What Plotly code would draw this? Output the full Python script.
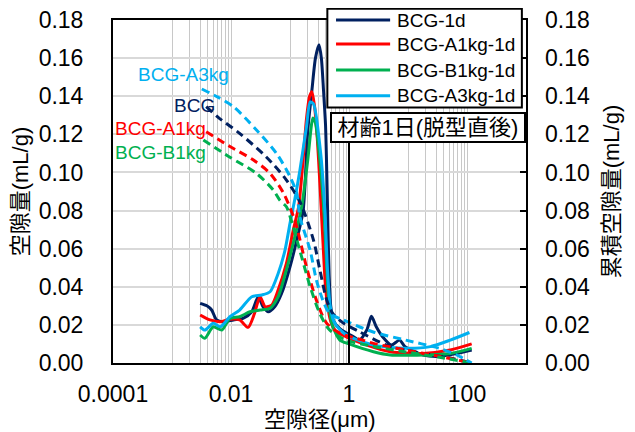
import plotly.graph_objects as go

# ---------------- data (pore diameter in µm) ----------------
series_names = ["BCG-1d", "BCG-A1kg-1d", "BCG-B1kg-1d", "BCG-A3kg-1d"]
cum_names = ["BCG", "BCG-A1kg", "BCG-B1kg", "BCG-A3kg"]
colors = ["#002060", "#FF0000", "#00B050", "#00B0F0"]

# pore volume distribution (left axis)
bcg_x = [0.0030, 0.0039, 0.0047, 0.0057, 0.0074, 0.011, 0.016, 0.0225, 0.029, 0.035, 0.043,
         0.055, 0.072, 0.10, 0.13, 0.167, 0.20, 0.235, 0.27, 0.31, 0.34, 0.37, 0.40, 0.42,
         0.44, 0.46, 0.49, 0.55, 0.70, 1.0, 1.2, 1.5, 2.0, 2.4, 2.9, 3.7, 5.2, 7.2, 8.9,
         18, 34, 67, 120]
bcg_y = [0.0313, 0.0300, 0.0278, 0.0226, 0.0217, 0.0226, 0.0234, 0.0269, 0.0348, 0.0295, 0.0269,
         0.0295, 0.0365, 0.0505, 0.0645, 0.0800, 0.1220, 0.1430, 0.1600, 0.1670, 0.1600, 0.1430, 0.1250, 0.1000,
         0.0700, 0.0470, 0.0300, 0.0220, 0.0180, 0.0150, 0.0138, 0.0120, 0.0173, 0.0245, 0.0190, 0.0138, 0.0094, 0.0120, 0.0086,
         0.0042, 0.0035, 0.0050, 0.0068]

a1_x = [0.0030, 0.0044, 0.0066, 0.0096, 0.014, 0.0195, 0.025, 0.031, 0.038, 0.049, 0.063, 0.087,
        0.114, 0.14, 0.165, 0.19, 0.215, 0.235, 0.26, 0.29, 0.32, 0.36, 0.40, 0.45, 0.50, 0.60,
        0.80, 1.0, 2.0, 5.0, 18, 52, 120]
a1_y = [0.0252, 0.0226, 0.0217, 0.0230, 0.0226, 0.0187, 0.0260, 0.0348, 0.0295, 0.0304, 0.0383, 0.0523,
        0.0700, 0.0820, 0.1050, 0.1280, 0.1400, 0.1424, 0.1350, 0.1180, 0.0950, 0.0650, 0.0400, 0.0270, 0.0210, 0.0165,
        0.0145, 0.0130, 0.0094, 0.0059, 0.0050, 0.0068, 0.0100]

b1_x = [0.0030, 0.0036, 0.0050, 0.0070, 0.0096, 0.014, 0.021, 0.031, 0.046, 0.063, 0.087, 0.12,
        0.158, 0.20, 0.245, 0.27, 0.30, 0.34, 0.38, 0.42, 0.46, 0.52, 0.70, 1.0, 2.6, 5.0,
        18, 52, 120]
b1_y = [0.0147, 0.0130, 0.0190, 0.0173, 0.0234, 0.0243, 0.0269, 0.0278, 0.0287, 0.0348, 0.0490, 0.0660,
        0.0820, 0.1065, 0.1286, 0.1260, 0.1150, 0.0980, 0.0770, 0.0500, 0.0300, 0.0200, 0.0120, 0.0100, 0.0059, 0.0042,
        0.0042, 0.0050, 0.0077]

a3_x = [0.0030, 0.0036, 0.0050, 0.0066, 0.0096, 0.014, 0.0225, 0.033, 0.046, 0.063, 0.082, 0.10,
        0.12, 0.147, 0.19, 0.22, 0.25, 0.28, 0.31, 0.34, 0.39, 0.43, 0.48, 0.55, 0.70, 1.0,
        2.6, 9.2, 24, 52, 110]
a3_y = [0.0190, 0.0173, 0.0208, 0.0190, 0.0243, 0.0278, 0.0348, 0.0357, 0.0374, 0.0470, 0.0590, 0.0733,
        0.0855, 0.1010, 0.1240, 0.1370, 0.1360, 0.1290, 0.1180, 0.1065, 0.0800, 0.0500, 0.0300, 0.0220, 0.0175, 0.0140,
        0.0094, 0.0077, 0.0086, 0.0120, 0.0160]

# cumulative pore volume (right axis)
bcg_cx = [0.0038, 0.0060, 0.014, 0.04, 0.087, 0.15, 0.25, 0.32, 0.42, 0.53, 0.8, 1.5, 5, 18, 52, 120]
bcg_cy = [0.1345, 0.1290, 0.1205, 0.1080, 0.0960, 0.0840, 0.0645, 0.0490, 0.0330, 0.0260, 0.0210, 0.0164,
          0.0086, 0.0050, 0.0026, 0.0]
a1_cx = [0.0038, 0.0096, 0.024, 0.046, 0.078, 0.114, 0.13, 0.19, 0.28, 0.42, 0.7, 1.7, 2.6, 9.2, 34, 120]
a1_cy = [0.1214, 0.1136, 0.1065, 0.0995, 0.0890, 0.0770, 0.0715, 0.0505, 0.0330, 0.0208, 0.0157, 0.0120,
         0.0103, 0.0068, 0.0035, 0.0]
b1_cx = [0.0034, 0.0096, 0.027, 0.052, 0.067, 0.087, 0.1, 0.147, 0.22, 0.32, 0.47, 0.9, 2.6, 9.2, 34, 120]
b1_cy = [0.1170, 0.1080, 0.0995, 0.0908, 0.0855, 0.0820, 0.0770, 0.0590, 0.0400, 0.0260, 0.0173, 0.0120,
         0.0087, 0.0058, 0.0030, 0.0]
a3_cx = [0.0032, 0.0060, 0.011, 0.027, 0.059, 0.10, 0.13, 0.147, 0.22, 0.28, 0.36, 0.47, 0.8, 2.5, 9.2, 34, 67, 120]
a3_cy = [0.1438, 0.1395, 0.1345, 0.1223, 0.1100, 0.0978, 0.0890, 0.0768, 0.0590, 0.0436, 0.0330, 0.0260,
         0.0226, 0.0164, 0.0120, 0.0077, 0.0042, 0.0]

x_tickvals = [0.0001, 0.01, 1, 100]
x_ticktext = ["0.0001", "0.01", "1", "100"]
y_tickvals = [0.00, 0.02, 0.04, 0.06, 0.08, 0.10, 0.12, 0.14, 0.16, 0.18]
y_ticktext = ["%.2f" % v for v in y_tickvals]
x_grid_vals = ([0.001 * k for k in range(1, 11)] + [0.1 * k for k in range(1, 11)]
               + [10 * k for k in range(1, 11)])

FONT = "'Liberation Sans', Arial, 'Noto Sans CJK JP', sans-serif"

dist = [(bcg_x, bcg_y), (a1_x, a1_y), (b1_x, b1_y), (a3_x, a3_y)]
cums = [(bcg_cx, bcg_cy), (a1_cx, a1_cy), (b1_cx, b1_cy), (a3_cx, a3_cy)]

fig = go.Figure()
for (cx, cy), name, col in zip(cums, cum_names, colors):
    fig.add_trace(go.Scatter(x=cx, y=cy, mode="lines", name=name, yaxis="y2",
                             line=dict(color=col, width=3, dash="8px,5px", shape="spline", smoothing=0.8),
                             showlegend=False))
for (dx, dy), name, col in zip(dist, series_names, colors):
    fig.add_trace(go.Scatter(x=dx, y=dy, mode="lines", name=name,
                             line=dict(color=col, width=3, shape="spline", smoothing=0.7),
                             showlegend=False))

# the page body adds an 8px offset, so the figure is 8px smaller than the window
fig.update_layout(
    width=627, height=424,
    margin=dict(l=105, r=109, t=12, b=69, autoexpand=False),
    paper_bgcolor="white", plot_bgcolor="white",
    font=dict(family=FONT, size=23, color="black"),
    xaxis=dict(type="log", range=[-4, 3], tickvals=x_tickvals, ticktext=x_ticktext, automargin=False,
               showgrid=False, zeroline=False, ticks="", ticklabelstandoff=9, ticklabeloverflow="allow",
               showline=True, linecolor="black", linewidth=2, mirror=True,
               minor=dict(tickvals=x_grid_vals, showgrid=True, gridcolor="#C8C8C8", gridwidth=1, ticks="")),
    yaxis=dict(range=[0, 0.18], tickvals=y_tickvals, ticktext=y_ticktext, automargin=False,
               showgrid=True, gridcolor="#D9D9D9", gridwidth=2, zeroline=False, ticks="",
               ticklabelstandoff=23, ticklabeloverflow="allow",
               showline=True, linecolor="black", linewidth=2, mirror=True,
               title=dict(text="空隙量(mL/g)", font=dict(size=22), standoff=6)),
    yaxis2=dict(range=[0, 0.18], tickvals=y_tickvals, ticktext=y_ticktext, overlaying="y", side="right",
                automargin=False, ticklabeloverflow="allow",
                showgrid=False, zeroline=False, ticks="inside", ticklen=6, tickwidth=2, tickcolor="black",
                ticklabelstandoff=18, showline=False,
                title=dict(text="累積空隙量(mL/g)", font=dict(size=22), standoff=14)),
)

# x axis title
fig.add_annotation(xref="paper", yref="paper", x=0.501, y=-0.165, text="空隙径(μm)", showarrow=False,
                   xanchor="center", yanchor="middle", font=dict(size=22, color="black"))

# black vertical frame line at 1 µm (lower part of plot)
fig.add_shape(type="line", xref="paper", yref="paper", x0=4 / 7, x1=4 / 7, y0=0, y1=0.647,
              line=dict(color="black", width=2))

# curve labels for cumulative curves
lab_pos = [(0.143, 0.752), (0.0, 0.685), (0.0, 0.615), (0.056, 0.840)]
for (lx, ly), name, col in zip(lab_pos, cum_names, colors):
    fig.add_annotation(xref="paper", yref="paper", x=lx, y=ly, text=name, showarrow=False,
                       xanchor="left", yanchor="middle", font=dict(size=19, color=col))

# legend box (manual)
fig.add_shape(type="rect", xref="paper", yref="paper", x0=0.519, x1=0.990, y0=0.745, y1=1.033,
              line=dict(color="black", width=2), fillcolor="white", layer="above")
row_y = [1.0, 0.930, 0.854, 0.779]
for ry, name, col in zip(row_y, series_names, colors):
    fig.add_shape(type="line", xref="paper", yref="paper", x0=0.540, x1=0.671, y0=ry, y1=ry,
                  line=dict(color=col, width=3), layer="above")
    fig.add_annotation(xref="paper", yref="paper", x=0.683, y=ry, text=name, showarrow=False,
                       xanchor="left", yanchor="middle", font=dict(size=19, color="black"))

# age annotation box
fig.add_annotation(xref="paper", yref="paper", x=0.763, y=0.688, text="材齢1日(脱型直後)", showarrow=False,
                   xanchor="center", yanchor="middle", font=dict(size=22, color="black"),
                   bordercolor="black", borderwidth=2, bgcolor="white", width=190, height=25)

fig.write_html("out.html")
